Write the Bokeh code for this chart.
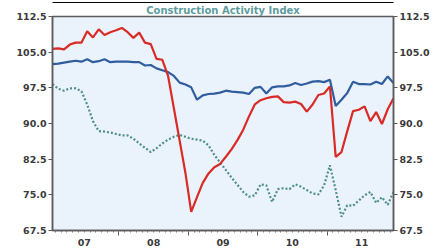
from bokeh.plotting import figure
from bokeh.models import Range1d, LinearAxis, FixedTicker, PrintfTickFormatter, Title
from bokeh.embed import file_html
from bokeh.resources import INLINE

# ---- data (monthly, Jan 2007 - Dec 2011) ----
years = [2007, 2008, 2009, 2010, 2011]
year_labels = ["07", "08", "09", "10", "11"]
months = [f"{y}-{m:02d}" for y in years for m in range(1, 13)]

red_series = [105.7, 105.8, 105.6, 106.6, 107.0, 107.0, 109.4, 108.1, 109.8, 108.6, 109.2, 109.6,
              110.1, 109.2, 108.0, 109.1, 107.0, 106.7, 103.6, 103.4, 100.0, 93.2, 86.4, 79.6,
              71.4, 74.5, 77.5, 79.5, 80.8, 81.5, 83.0, 84.6, 86.5, 88.7, 91.5, 94.0,
              94.9, 95.3, 95.6, 95.7, 94.5, 94.4, 94.6, 94.1, 92.5, 94.0, 96.0, 96.3,
              97.8, 83.0, 84.0, 88.4, 92.6, 92.9, 93.6, 90.5, 92.4, 89.9, 93.0, 95.3]

blue_series = [102.5, 102.6, 102.8, 103.0, 103.2, 103.0, 103.5, 102.9, 103.1, 103.5, 102.9, 103.0,
               103.0, 103.0, 102.9, 102.9, 102.2, 102.3, 101.6, 101.2, 100.8, 100.0, 98.6, 98.2,
               97.6, 95.0, 95.9, 96.2, 96.3, 96.5, 96.9, 96.7, 96.6, 96.5, 96.2, 97.5,
               97.7, 96.3, 97.6, 97.8, 97.8, 98.0, 98.5, 98.1, 98.4, 98.8, 98.9, 98.7,
               99.2, 93.7, 95.0, 96.4, 98.8, 98.3, 98.3, 98.2, 98.8, 98.3, 99.9, 98.5]

teal_series = [98.3, 97.3, 96.9, 97.4, 97.4, 96.8, 94.0, 90.5, 88.4, 88.3, 88.1, 87.8,
               87.5, 87.5, 86.8, 85.8, 84.9, 84.0, 84.8, 85.8, 86.6, 87.2, 87.6, 87.2,
               86.8, 86.6, 86.4, 85.4, 83.4, 81.8, 80.2, 78.6, 77.1, 75.6, 74.6, 74.9,
               77.2, 77.0, 73.5, 76.2, 76.4, 76.2, 77.2, 76.7, 76.0, 75.3, 75.1, 77.0,
               81.2, 76.0, 70.4, 72.8, 72.7, 73.8, 74.9, 75.6, 73.3, 74.5, 72.9, 75.6]

y_ticks = [67.5, 75.0, 82.5, 90.0, 97.5, 105.0, 112.5]
title_text = "Construction Activity Index"

# month positions as fractional years (mid-month)
x = [int(s[:4]) + (int(s[5:]) - 0.5) / 12 for s in months]

FONT = "DejaVu Sans"
LABEL_COLOR = "#3a3a3a"
FRAME_COLOR = "#5a5a5a"

W, H = 432, 251
BL, BR, BT, BB = 52, 39, 16, 21

p = figure(width=W, height=H, output_backend="svg", toolbar_location=None,
           x_range=Range1d(x[0], x[-1]), y_range=Range1d(y_ticks[0], y_ticks[-1]),
           min_border_left=BL, min_border_right=BR, min_border_top=BT, min_border_bottom=BB,
           x_axis_location=None, y_axis_location=None, title_location=None)
p.background_fill_color = "#EAF2FC"
p.border_fill_color = "white"
p.outline_line_color = FRAME_COLOR
p.outline_line_width = 1.5
p.xgrid.visible = False
p.ygrid.visible = False

# title just above the frame (closest panel above)
p.add_layout(Title(text=title_text, align="center", text_font=FONT, text_font_style="bold",
                   text_font_size="10px", text_color="#5E9CA0", standoff=1, offset=0), "above")

# thin black rule above the title (an axis line with invisible tick/label)
rule = LinearAxis(ticker=FixedTicker(ticks=[years[2] + 0.5], minor_ticks=[]))
rule.axis_line_color = "black"
rule.axis_line_width = 1.2
rule.major_tick_line_color = None
rule.major_tick_out = 0
rule.major_tick_in = 0
rule.minor_tick_line_color = None
rule.major_label_text_color = None
rule.major_label_text_font_size = "1px"
rule.major_label_standoff = 0
p.add_layout(rule, "above")

# series
p.line(x, teal_series, line_color="#4E8E8A", line_width=2.2, line_dash="2 2")
p.line(x, blue_series, line_color="#2F5D9E", line_width=2.2)
p.line(x, red_series, line_color="#D92B26", line_width=2.2)

# y axes (left & right)
for side in ("left", "right"):
    ax = LinearAxis(ticker=FixedTicker(ticks=y_ticks),
                    formatter=PrintfTickFormatter(format="%.1f"))
    ax.axis_line_color = FRAME_COLOR
    ax.axis_line_width = 1.5
    ax.major_tick_line_color = FRAME_COLOR
    ax.major_tick_out = 4
    ax.major_tick_in = 0
    ax.minor_tick_line_color = None
    ax.major_label_standoff = 2
    ax.major_label_text_font = FONT
    ax.major_label_text_font_style = "bold"
    ax.major_label_text_font_size = "9.5px"
    ax.major_label_text_color = LABEL_COLOR
    p.add_layout(ax, side)

# bottom axis 1: tick marks at year boundaries (major) and months (minor), no labels drawn
year_bounds = years[1:]
month_bounds = [int(s[:4]) + (int(s[5:]) - 1) / 12 for s in months]
ax_t = LinearAxis(ticker=FixedTicker(ticks=year_bounds, minor_ticks=month_bounds))
ax_t.axis_line_color = FRAME_COLOR
ax_t.axis_line_width = 1.5
ax_t.major_tick_line_color = FRAME_COLOR
ax_t.major_tick_out = 5
ax_t.major_tick_in = 0
ax_t.minor_tick_line_color = "#777777"
ax_t.minor_tick_out = 2
ax_t.minor_tick_in = 0
ax_t.major_label_text_color = None
ax_t.major_label_text_font_size = "1px"
ax_t.major_label_standoff = 0
p.add_layout(ax_t, "below")

# bottom axis 2: year labels centred in each year
mid_years = [y + 0.5 for y in years]
ax_l = LinearAxis(ticker=FixedTicker(ticks=mid_years, minor_ticks=[]),
                  major_label_overrides={m: lbl for m, lbl in zip(mid_years, year_labels)})
ax_l.axis_line_color = None
ax_l.major_tick_line_color = None
ax_l.minor_tick_line_color = None
ax_l.major_tick_out = 0
ax_l.major_tick_in = 0
ax_l.major_label_standoff = 3
ax_l.major_label_text_font = FONT
ax_l.major_label_text_font_style = "bold"
ax_l.major_label_text_font_size = "9.5px"
ax_l.major_label_text_color = LABEL_COLOR
p.add_layout(ax_l, "below")

open("out.html", "w").write(file_html(p, INLINE))
